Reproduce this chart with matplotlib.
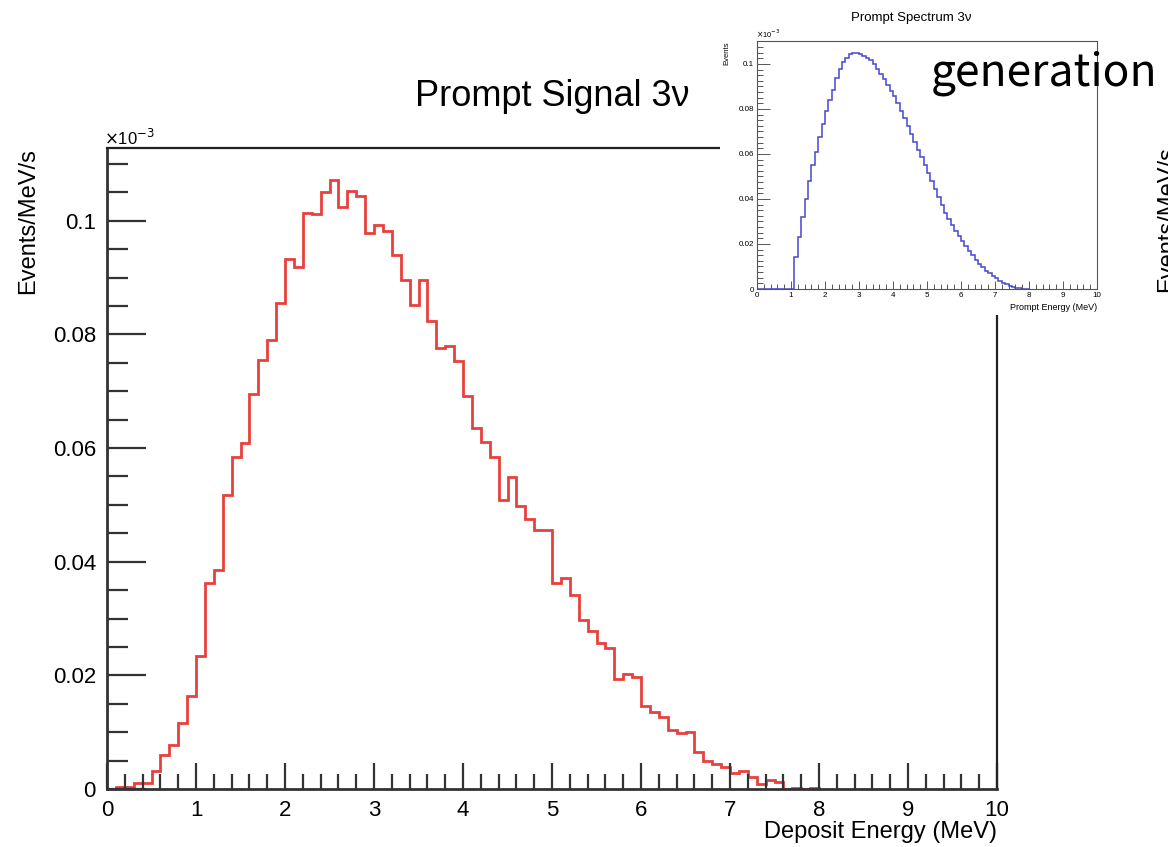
import numpy as np
import matplotlib
matplotlib.use("Agg")
import matplotlib.pyplot as plt
from matplotlib.patches import Rectangle
from matplotlib.ticker import MultipleLocator, FuncFormatter

# --- 資料 (單位: x10^-3 Events/MeV/s) ---
bin_lo, bin_hi, n_bins = 0.0, 8.0, 80

# 主圖: Prompt Signal 3ν (紅)
signal_vals = [
    0.0, 0.0004, 0.0004, 0.0010, 0.0010, 0.0032, 0.0059, 0.0077, 0.0116, 0.0164,
    0.0234, 0.0362, 0.0386, 0.0518, 0.0585, 0.0609, 0.0695, 0.0755, 0.0790, 0.0856,
    0.0933, 0.0918, 0.1014, 0.1012, 0.1050, 0.1072, 0.1025, 0.1052, 0.1044, 0.0978,
    0.0993, 0.0982, 0.0939, 0.0895, 0.0851, 0.0895, 0.0823, 0.0776, 0.0779, 0.0754,
    0.0692, 0.0636, 0.0611, 0.0585, 0.0508, 0.0549, 0.0498, 0.0475, 0.0455, 0.0455,
    0.0362, 0.0372, 0.0342, 0.0298, 0.0278, 0.0257, 0.0249, 0.0193, 0.0202, 0.0197,
    0.0146, 0.0136, 0.0127, 0.0104, 0.0098, 0.0101, 0.0065, 0.0050, 0.0044, 0.0038,
    0.0029, 0.0032, 0.0021, 0.0009, 0.0016, 0.0012, 0.0, 0.0002, 0.0, 0.0002,
]

# 小圖: Prompt Spectrum 3ν (藍)
spectrum_vals = [
    0.0, 0.0, 0.0, 0.0, 0.0, 0.0, 0.0, 0.0, 0.0, 0.0,
    0.0, 0.0142, 0.0231, 0.0318, 0.0399, 0.0478, 0.0550, 0.0608, 0.0675, 0.0734,
    0.0791, 0.0840, 0.0885, 0.0936, 0.0978, 0.1007, 0.1028, 0.1043, 0.1050, 0.1049,
    0.1044, 0.1037, 0.1028, 0.1016, 0.0999, 0.0976, 0.0954, 0.0932, 0.0908, 0.0882,
    0.0856, 0.0826, 0.0793, 0.0760, 0.0724, 0.0688, 0.0655, 0.0619, 0.0585, 0.0550,
    0.0515, 0.0480, 0.0445, 0.0408, 0.0373, 0.0339, 0.0310, 0.0283, 0.0258, 0.0236,
    0.0213, 0.0191, 0.0170, 0.0150, 0.0131, 0.0113, 0.0097, 0.0082, 0.0069, 0.0058,
    0.0047, 0.0037, 0.0028, 0.0020, 0.0014, 0.0009, 0.0005, 0.0003, 0.0001, 0.00005,
]

edges = np.linspace(bin_lo, bin_hi, n_bins + 1)

plt.rcParams['font.family'] = ['Liberation Sans', 'DejaVu Sans']
W, H = 1168, 847
fig = plt.figure(figsize=(W / 100, H / 100), dpi=100)
fig.patch.set_facecolor('white')

def fx(px):
    return px / W

def fy(py):
    return 1 - py / H

frame_c = '#333333'
fmt = FuncFormatter(lambda v, p: '%g' % round(v, 4))

# --- 主圖 ---
ax = fig.add_axes([fx(107), fy(789), fx(997) - fx(107), fy(148) - fy(789)])
ax.stairs(signal_vals, edges, color='#e8413d', lw=2.0)
ax.set_xlim(0, 10)
ax.set_ylim(0, 0.1128)
ax.xaxis.set_major_locator(MultipleLocator(1))
ax.xaxis.set_minor_locator(MultipleLocator(0.2))
ax.yaxis.set_major_locator(MultipleLocator(0.02))
ax.yaxis.set_minor_locator(MultipleLocator(0.005))
ax.yaxis.set_major_formatter(fmt)
ax.tick_params(axis='y', which='major', direction='in', length=28, width=1.6,
               color=frame_c, labelsize=16, pad=8)
ax.tick_params(axis='y', which='minor', direction='in', length=15, width=1.6, color=frame_c)
ax.tick_params(axis='x', which='major', direction='in', length=19, width=1.6,
               color=frame_c, labelsize=16, pad=8)
ax.tick_params(axis='x', which='minor', direction='in', length=11, width=1.6, color=frame_c)
for s in ['left', 'bottom']:
    ax.spines[s].set_linewidth(2.0)
    ax.spines[s].set_color(frame_c)
for s in ['top', 'right']:
    ax.spines[s].set_linewidth(1.6)
    ax.spines[s].set_color('#222222')

fig.text(fx(552), fy(96), 'Prompt Signal 3ν', ha='center', va='center', fontsize=26)
fig.text(fx(997), fy(832), 'Deposit Energy (MeV)', ha='right', va='center', fontsize=17)
fig.text(fx(28), fy(148), 'Events/MeV/s', ha='center', va='top', rotation=90, fontsize=17)
fig.text(fx(104), fy(138), r'$\times$10$^{-3}$', ha='left', va='center', fontsize=12)

# 右側被截斷的另一張圖的 y 標籤
fig.text(fx(1156), fy(146), 'Events/MeV/s', ha='left', va='top', rotation=90, fontsize=17)

# --- 小圖 (貼上的截圖) ---
fig.add_artist(Rectangle((fx(720), fy(315)), fx(1106) - fx(720), fy(0) - fy(315),
                         transform=fig.transFigure, facecolor='white',
                         edgecolor='none', zorder=1))

axi = fig.add_axes([fx(757), fy(289), fx(1097) - fx(757), fy(41) - fy(289)], zorder=2)
axi.stairs(spectrum_vals, edges, color='#4646d2', lw=1.1)
axi.set_xlim(0, 10)
axi.set_ylim(0, 0.1102)
axi.xaxis.set_major_locator(MultipleLocator(1))
axi.xaxis.set_minor_locator(MultipleLocator(0.2))
axi.yaxis.set_major_locator(MultipleLocator(0.02))
axi.yaxis.set_minor_locator(MultipleLocator(0.0025))
axi.yaxis.set_major_formatter(fmt)
axi.tick_params(axis='y', which='major', direction='in', length=9, width=0.7,
                color='#555555', labelsize=5.8, pad=2)
axi.tick_params(axis='y', which='minor', direction='in', length=4.5, width=0.7, color='#555555')
axi.tick_params(axis='x', which='major', direction='in', length=6, width=0.7,
                color='#555555', labelsize=5.8, pad=2)
axi.tick_params(axis='x', which='minor', direction='in', length=3.5, width=0.7, color='#555555')
for s in axi.spines.values():
    s.set_linewidth(0.8)
    s.set_color('#555555')

fig.text(fx(911), fy(18), 'Prompt Spectrum 3ν', ha='center', va='center', fontsize=9.5, zorder=3)
fig.text(fx(1097), fy(308), 'Prompt Energy (MeV)', ha='right', va='center', fontsize=6.5, zorder=3)
fig.text(fx(727), fy(41), 'Events', ha='center', va='top', rotation=90, fontsize=5.5, zorder=3)
fig.text(fx(756), fy(34), r'$\times$10$^{-3}$', ha='left', va='center', fontsize=5.5, zorder=3)

# --- 疊加文字 ---
fig.text(fx(931), fy(73), 'generation', ha='left', va='center', fontsize=32,
         family=['Noto Sans CJK KR', 'DejaVu Sans'], zorder=4)

fig.savefig('out.png', dpi=100, facecolor='white')
